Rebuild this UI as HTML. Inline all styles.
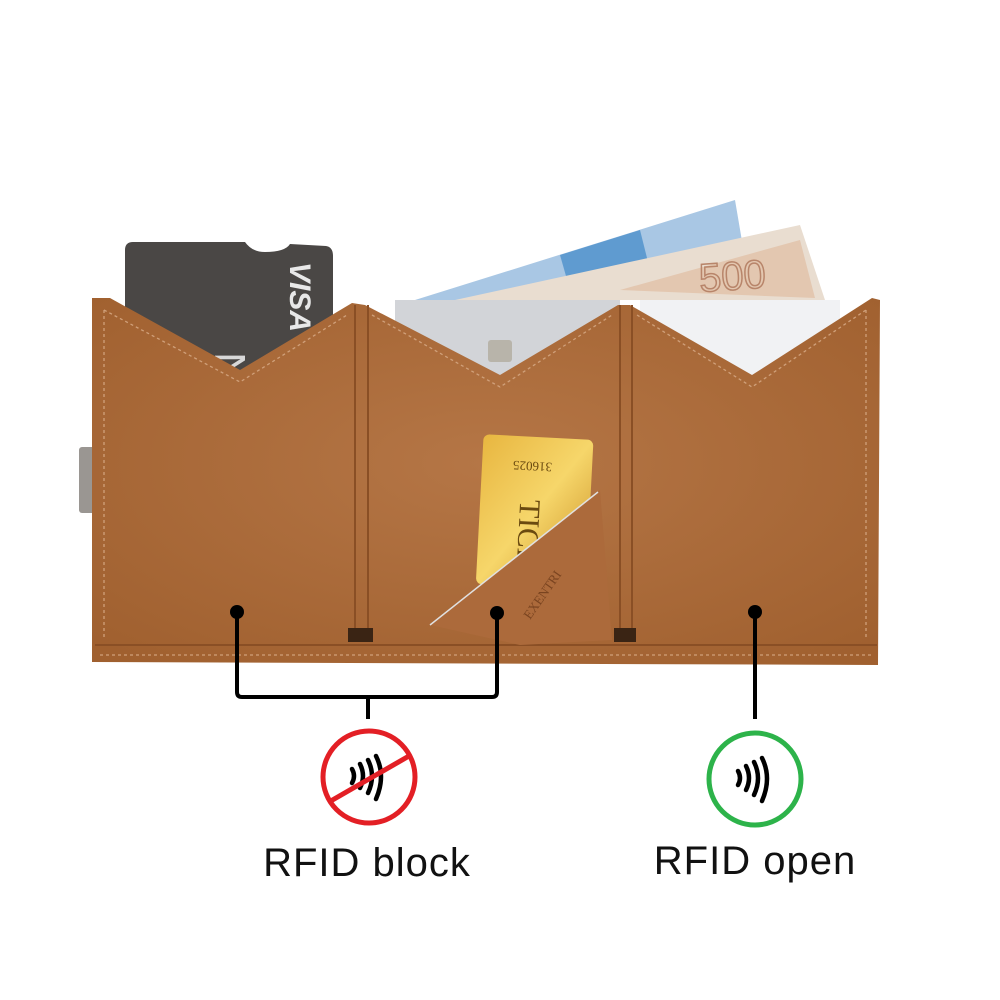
<!DOCTYPE html>
<html><head><meta charset="utf-8"><style>
html,body{margin:0;padding:0;background:#fff;width:1000px;height:1000px;overflow:hidden}
</style></head><body>
<svg width="1000" height="1000" viewBox="0 0 1000 1000" xmlns="http://www.w3.org/2000/svg">
<defs>
<radialGradient id="lea" cx="50%" cy="45%" r="70%">
<stop offset="0" stop-color="#b57646"/><stop offset="1" stop-color="#a0602f"/>
</radialGradient>
<linearGradient id="gold" x1="0" y1="0" x2="1" y2="1">
<stop offset="0" stop-color="#e8b640"/><stop offset="0.5" stop-color="#f6d66a"/><stop offset="1" stop-color="#c98d22"/>
</linearGradient>
</defs>
<polygon points="415,300 735,200 752,300" fill="#a9c7e4"/>
<polygon points="560,255 640,230 650,270 570,290" fill="#5f9bd0"/>
<polygon points="455,300 800,225 825,300" fill="#e9ddd0"/>
<polygon points="620,290 800,240 815,298" fill="#e3c7b0"/>
<text x="700" y="292" font-family="Liberation Sans,sans-serif" font-size="40" fill="none" stroke="#b8856a" stroke-width="1.5" transform="rotate(-4 700 292)">500</text>
<path d="M125,250 Q125,242 133,242 L245,242 Q252,252 265,252 Q285,252 290,244 L326,246 Q333,247 333,256 L333,370 L125,370 Z" fill="#4a4745"/>
<text x="215" y="352" font-family="Liberation Sans,sans-serif" font-size="44" fill="#d8d8d8" transform="rotate(90 215 352)">NB</text>
<text x="290" y="262" font-family="Liberation Sans,sans-serif" font-weight="bold" font-style="italic" font-size="30" fill="#e8e8e8" transform="rotate(90 290 262)">VISA</text>
<rect x="395" y="300" width="225" height="80" fill="#d2d4d8"/>
<rect x="488" y="340" width="24" height="22" rx="3" fill="#b8b4aa"/>
<rect x="640" y="300" width="200" height="80" fill="#f1f2f4"/>
<rect x="79" y="447" width="20" height="66" rx="3" fill="#9a9692"/>
<path d="M92,298 L110,298 L240,370 L352,303 L365,305 L500,375 L618,305 L630,305 L752,375 L872,298 L880,300 L878,665 L92,662 Z" fill="url(#lea)"/>
<g stroke="#8a4f25" stroke-width="2" fill="none">
<line x1="355" y1="305" x2="355" y2="640"/><line x1="368" y1="305" x2="368" y2="640"/>
<line x1="620" y1="305" x2="620" y2="640"/><line x1="632" y1="305" x2="632" y2="640"/>
<line x1="95" y1="645" x2="877" y2="645"/>
</g>
<g stroke="#d0a07a" stroke-width="1.3" stroke-dasharray="3 3" fill="none">
<path d="M104,310 L240,382 L347,315"/><path d="M372,315 L500,387 L612,315"/><path d="M637,315 L752,387 L866,310"/>
<line x1="104" y1="310" x2="104" y2="640"/><line x1="866" y1="310" x2="866" y2="640"/>
<line x1="100" y1="655" x2="872" y2="655"/>
</g>
<rect x="348" y="628" width="25" height="14" fill="#3a2414"/>
<rect x="614" y="628" width="22" height="14" fill="#3a2414"/>
<g transform="rotate(3 535 505)">
<rect x="480" y="437" width="110" height="150" rx="6" fill="url(#gold)"/>
<text x="510" y="470" font-family="Liberation Serif,serif" font-size="13" fill="#6a4a10" transform="rotate(180 530 466)">316025</text>
<text x="520" y="500" font-family="Liberation Serif,serif" font-size="30" fill="#6a4a10" transform="rotate(90 520 500)">TICK</text>
</g>
<polygon points="430,625 600,490 612,640 520,645" fill="#ac6a3b"/>
<line x1="430" y1="625" x2="598" y2="492" stroke="#e0e0e0" stroke-width="1.5"/>
<text x="530" y="620" font-family="Liberation Serif,serif" font-size="13" fill="#7a4420" transform="rotate(-55 530 620)">EXENTRI</text>
<g fill="#000"><circle cx="237" cy="612" r="7"/><circle cx="497" cy="613" r="7"/><circle cx="755" cy="612" r="7"/></g>
<g stroke="#000" stroke-width="4" fill="none">
<path d="M237,612 L237,692 Q237,697 242,697 L492,697 Q497,697 497,692 L497,613"/>
<line x1="368" y1="697" x2="368" y2="719"/>
<line x1="755" y1="612" x2="755" y2="719"/>
</g>
<circle cx="369" cy="777" r="46" fill="none" stroke="#e31f25" stroke-width="5"/>
<circle cx="755" cy="779" r="46" fill="none" stroke="#2db34a" stroke-width="5"/>
<g stroke="#000" stroke-width="4.5" fill="none" stroke-linecap="round">
<path d="M352,769 Q356,776 352,783"/><path d="M360,764 Q366,776 360,788"/><path d="M368,760 Q376,776 368,793"/><path d="M376,756 Q386,776 376,799"/>
<path d="M738,771 Q742,778 738,785"/><path d="M746,766 Q752,778 746,790"/><path d="M754,762 Q762,778 754,795"/><path d="M762,758 Q772,778 762,801"/>
</g>
<line x1="329" y1="802" x2="409" y2="756" stroke="#e31f25" stroke-width="5"/>
<text x="367" y="876" text-anchor="middle" font-family="Liberation Sans,sans-serif" font-size="40" letter-spacing="1" fill="#111">RFID block</text>
<text x="755" y="874" text-anchor="middle" font-family="Liberation Sans,sans-serif" font-size="40" letter-spacing="1" fill="#111">RFID open</text>
</svg>
</body></html>
